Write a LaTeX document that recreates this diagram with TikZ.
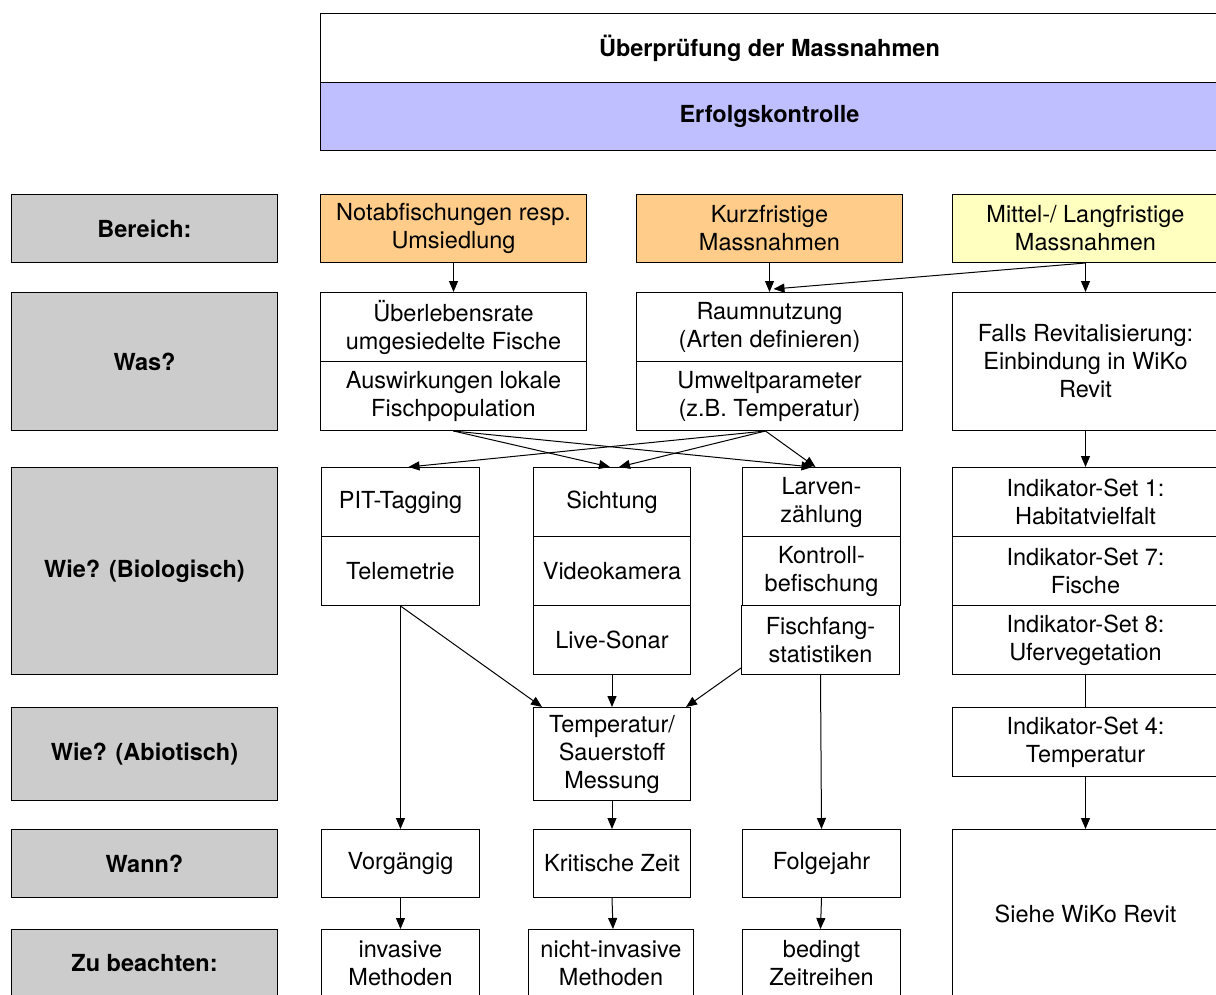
\documentclass[tikz,border=0pt]{standalone}
\usepackage{fontspec}
\setmainfont{TeX Gyre Heros}
\usetikzlibrary{arrows.meta,calc}
\definecolor{orangeF}{RGB}{255,204,138}
\definecolor{blueF}{RGB}{191,191,255}
\definecolor{yellowF}{RGB}{255,255,192}
\definecolor{grayF}{RGB}{204,204,204}
\newcommand{\bx}[7][]{\node[box,#1,minimum width=#5pt,minimum height=#6pt] (#2) at (#3,#4) {#7};}
\tikzset{
  box/.style={draw, line width=1pt, inner sep=0pt, align=center, anchor=north west, font=\fontsize{23.5}{28}\selectfont},
  lab/.style={fill=grayF, font=\fontsize{23.5}{28}\selectfont\bfseries},
  arr/.style={-{Triangle[length=11pt,width=9pt]}, line width=1pt},
  ln/.style={line width=1pt}
}
\begin{document}
\begin{tikzpicture}[x=1pt,y=-1pt]
\useasboundingbox (0,0) rectangle (1216,994);
\clip (0,0) rectangle (1216,994);
% header
\bx{top}{320}{13}{898}{69}{\bfseries Überprüfung der Massnahmen}
\bx[fill=blueF]{erf}{320}{82}{898}{68}{\bfseries Erfolgskontrolle}
% row labels
\bx[lab]{bereich}{11}{194}{266}{68}{Bereich:}
\bx[lab]{was}{11}{292}{266}{138}{Was?}
\bx[lab]{wiebio}{11}{467}{266}{207}{Wie? (Biologisch)}
\bx[lab]{wieab}{11}{707}{266}{93}{Wie? (Abiotisch)}
\bx[lab]{wann}{11}{829}{266}{68}{Wann?}
\bx[lab]{zu}{11}{929}{266}{68}{Zu beachten:}
% Bereich
\bx[fill=orangeF]{notab}{320}{194}{266}{68}{Notabfischungen resp.\\Umsiedlung}
\bx[fill=orangeF]{kurz}{636}{194}{266}{68}{Kurzfristige\\Massnahmen}
\bx[fill=yellowF]{mittel}{952}{194}{266}{68}{Mittel-/ Langfristige\\Massnahmen}
% Was
\bx{ueber}{320}{292}{266}{69}{Überlebensrate\\umgesiedelte Fische}
\bx{ausw}{320}{361}{266}{69}{Auswirkungen lokale\\Fischpopulation}
\bx{raum}{636}{292}{266}{69}{Raumnutzung\\(Arten definieren)}
\bx{umwelt}{636}{361}{266}{69}{Umweltparameter\\(z.B. Temperatur)}
\bx{falls}{952}{292}{266}{138}{Falls Revitalisierung:\\Einbindung in WiKo\\Revit}
% Wie biologisch
\bx{pit}{321}{467}{158}{69}{PIT-Tagging}
\bx{tele}{321}{536}{158}{69}{Telemetrie}
\bx{sicht}{533}{467}{157}{69}{Sichtung}
\bx{video}{533}{536}{157}{69}{Videokamera}
\bx{sonar}{533}{605}{157}{69}{Live-Sonar}
\bx{larven}{742}{467}{158}{69}{Larven-\\zählung}
\bx{kontroll}{742}{536}{158}{69}{Kontroll-\\befischung}
\bx{fang}{741}{605}{158}{69}{Fischfang-\\statistiken}
\bx{indA}{952}{467}{266}{69}{Indikator-Set 1:\\Habitatvielfalt}
\bx{indB}{952}{536}{266}{69}{Indikator-Set 7:\\Fische}
\bx{indC}{952}{605}{266}{69}{Indikator-Set 8:\\Ufervegetation}
% Wie abiotisch
\bx{temp}{533}{707}{157}{93}{Temperatur/\\Sauerstoff\\Messung}
\bx{indD}{952}{707}{266}{69}{Indikator-Set 4:\\Temperatur}
% Wann
\bx{vorg}{321}{829}{158}{68}{Vorgängig}
\bx{krit}{533}{829}{157}{68}{Kritische Zeit}
\bx{folge}{742}{829}{158}{68}{Folgejahr}
\bx{siehe}{952}{829}{266}{168}{Siehe WiKo Revit}
% Zu beachten
\bx{inv}{321}{929}{158}{68}{invasive\\Methoden}
\bx{ninv}{528}{929}{165}{68}{nicht-invasive\\Methoden}
\bx{bed}{742}{929}{158}{68}{bedingt\\Zeitreihen}
% connectors
\draw[arr] (notab.south -| ueber.north) -- (ueber.north);
\draw[arr] (kurz.south) -- (raum.north);
\draw[arr] (mittel.south) -- ($(raum.north)+(4,-3)$);
\draw[arr] (mittel.south) -- (falls.north);
\draw[arr] (ausw.south) -- ($(sicht.north)+(-2,0)$);
\draw[arr] (ausw.south) -- ($(larven.north)+(-9,0)$);
\draw[arr] ($(umwelt.south)+(-4,0)$) -- ($(pit.north)+(8,0)$);
\draw[arr] ($(umwelt.south)+(-4,0)$) -- ($(sicht.north)+(7,0)$);
\draw[arr] ($(umwelt.south)+(-4,0)$) -- ($(larven.north)+(-6,0)$);
\draw[arr] (tele.south) -- (vorg.north);
\draw[arr] (tele.south) -- ($(temp.north west)+(9,0)$);
\draw[arr] (sonar.south) -- (temp.north);
\draw[arr] ($(fang.south west)+(0,-7)$) -- ($(temp.north east)+(-5,0)$);
\draw[arr] (fang.south) -- (folge.north);
\draw[arr] (temp.south) -- (krit.north);
\draw[arr] (vorg.south) -- (inv.north);
\draw[arr] (krit.south) -- ($(ninv.north)+(2,0)$);
\draw[arr] (folge.south) -- ($(bed.north)+(-1,0)$);
\draw[arr] (falls.south) -- (indA.north);
\draw[ln] (indC.south) -- (indD.north);
\draw[arr] (indD.south) -- (siehe.north);
\end{tikzpicture}
\end{document}
